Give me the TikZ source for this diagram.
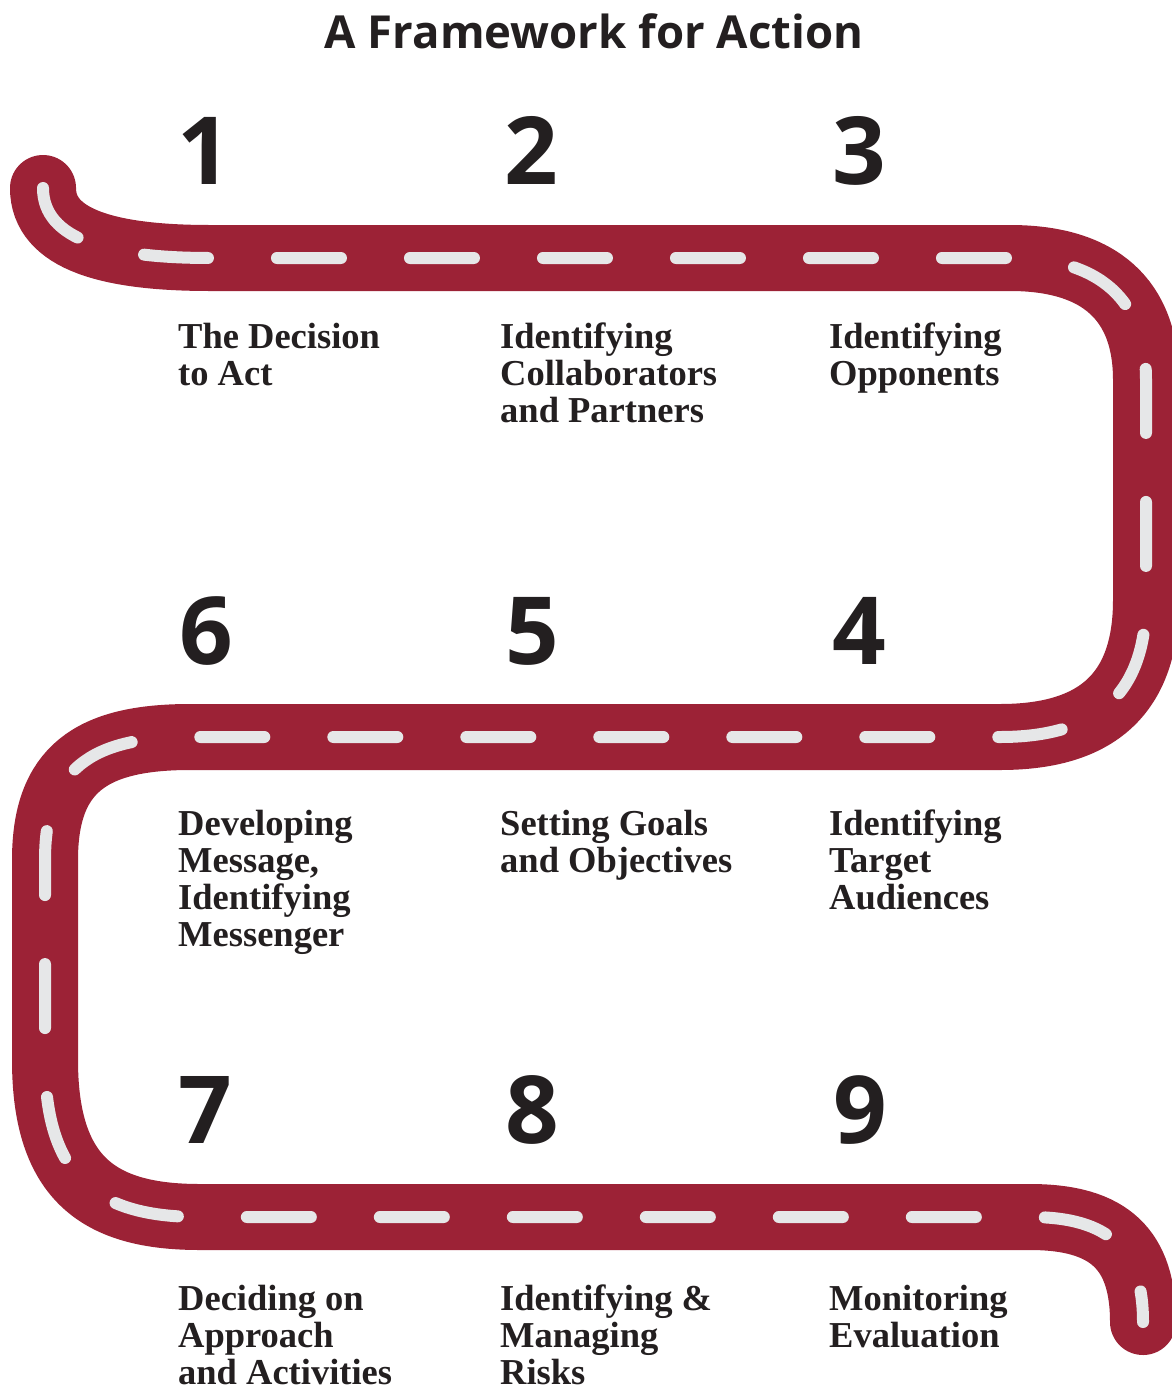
\documentclass[tikz,border=0pt]{standalone}
\usepackage{fontspec}
\setmainfont{Liberation Serif}
\newfontfamily\headfont{Open Sans}
\definecolor{roadred}{HTML}{9C2236}
\definecolor{lanegray}{HTML}{E6E7E8}
\definecolor{inkblack}{HTML}{231F20}

\begin{document}
\begin{tikzpicture}[x=1pt, y=-1pt,
  road/.style={draw=roadred, line width=66pt, line cap=round,
    postaction={draw=lanegray, line width=12pt, line cap=round,
      dash pattern=on 64pt off 69pt}},
  title/.style={anchor=base, inner sep=0pt, text=inkblack,
    font=\headfont\bfseries\fontsize{45.5}{50}\selectfont},
  num/.style={anchor=base, inner sep=0pt, text=inkblack,
    font=\headfont\bfseries\fontsize{94}{94}\selectfont},
  % base anchor sits on the last line of a caption
  caption/.style={anchor=base west, inner sep=0pt, align=left,
    text=inkblack, font=\bfseries\fontsize{36.5}{37}\selectfont}
]
\useasboundingbox (0,0) rectangle (1171,1387);

% the winding road
\draw[road] (43,188) .. controls (43,240) and (110,258) .. (210,258)
  -- (1010,258) .. controls (1100,258) and (1146,300) .. (1146,380)
  -- (1146,600) .. controls (1146,700) and (1090,737) .. (1000,737)
  -- (190,737) .. controls (90,737) and (45,770) .. (45,860)
  -- (45,1060) .. controls (45,1180) and (100,1217) .. (200,1217)
  -- (1030,1217) .. controls (1110,1217) and (1143,1250) .. (1143,1322);

\node[title] (head) at (594,48) {A Framework for Action};

% first row
\node[num] (n1) at (204,184) {1};
\node[num] (n2) at (531,184) {2};
\node[num] (n3) at (859,184) {3};
\node[caption] (c1) at (178,385) {The Decision\\to Act};
\node[caption] (c2) at (500,422) {Identifying\\Collaborators\\and Partners};
\node[caption] (c3) at (829,385) {Identifying\\Opponents};

% second row, right to left
\node[num] (n6) at (206,664) {6};
\node[num] (n5) at (532,664) {5};
\node[num] (n4) at (859,664) {4};
\node[caption] (c6) at (178,946) {Developing\\Message,\\Identifying\\Messenger};
\node[caption] (c5) at (500,872) {Setting Goals\\and Objectives};
\node[caption] (c4) at (829,909) {Identifying\\Target\\Audiences};

% third row
\node[num] (n7) at (205,1143) {7};
\node[num] (n8) at (532,1143) {8};
\node[num] (n9) at (860,1143) {9};
\node[caption] (c7) at (178,1384) {Deciding on\\Approach\\and Activities};
\node[caption] (c8) at (500,1384) {Identifying \&\\Managing\\Risks};
\node[caption] (c9) at (829,1347) {Monitoring\\Evaluation};

\end{tikzpicture}
\end{document}
